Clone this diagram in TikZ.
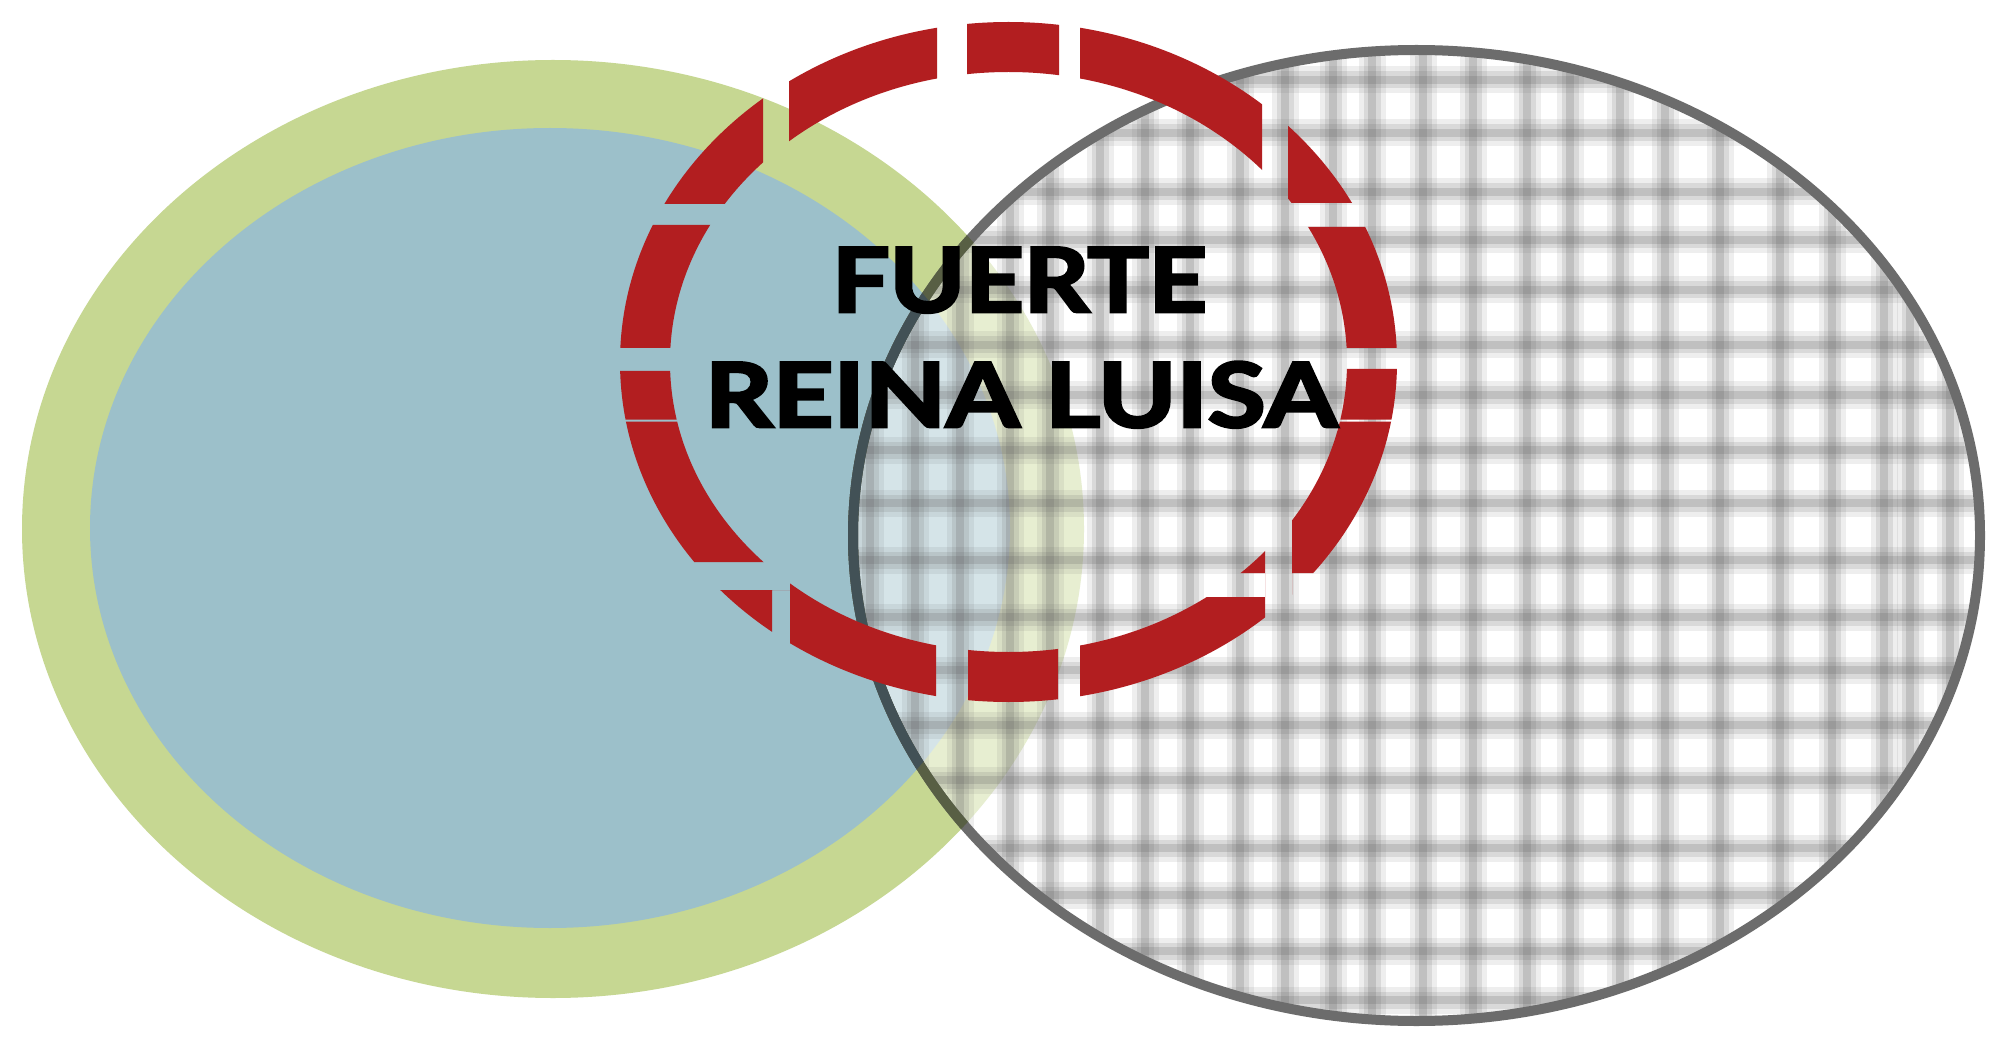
\documentclass[tikz,border=0pt]{standalone}
\usepackage{fontspec}
\newfontfamily\labelfont{Lato}[BoldFeatures={FakeBold=3.2}]
\definecolor{ringgreen}{RGB}{198,215,146}
\definecolor{poolblue}{RGB}{156,192,202}
\definecolor{fortred}{RGB}{178,30,32}
\definecolor{meshgrey}{RGB}{95,95,95}
\definecolor{edgegrey}{RGB}{108,108,108}
\definecolor{edgeongreen}{RGB}{88,95,68}
\definecolor{edgeonblue}{RGB}{66,81,86}
\tikzset{
  labeltext/.style={font=\labelfont\bfseries\fontsize{89.3}{100}\selectfont, inner sep=0pt, text=black},
  meshwide/.style={draw=meshgrey, opacity=0.10, line width=27},
  meshmid/.style={draw=meshgrey, opacity=0.14, line width=17},
  meshthin/.style={draw=meshgrey, opacity=0.2, line width=8},
  greyedge/.style={line width=10}
}
\begin{document}
\begin{tikzpicture}[x=1pt,y=-1pt]
\useasboundingbox (0,0) rectangle (1997,1048);
\fill[white] (0,0) rectangle (1997,1048);
% green ring and blue pool
\fill[ringgreen] (553,529) ellipse [x radius=531, y radius=469];
\fill[poolblue] (550,528) ellipse [x radius=460, y radius=400];
% grey mesh ellipse
\begin{scope}
  \clip (1416.5,535.5) ellipse [x radius=563.5, y radius=485.5];
  \fill[white, opacity=0.58] (840,40) rectangle (1990,1030);
  \foreach \gx in {870,915,960,1010,1050,1100,1145,1190,1240,1285,1333,1372,1423,1473,1527,1570,1620,1665,1720,1780,1832,1884,1910,1950}{
    \draw[meshwide] (\gx,40) -- (\gx,1030);
    \draw[meshmid] (\gx,40) -- (\gx,1030);
    \draw[meshthin] (\gx,40) -- (\gx,1030);
  }
  \foreach \gy in {80,133,192,240,290,345,395,450,503,560,617,670,725,780,848,895,951,1000}{
    \draw[meshwide] (840,\gy) -- (1990,\gy);
    \draw[meshmid] (840,\gy) -- (1990,\gy);
    \draw[meshthin] (840,\gy) -- (1990,\gy);
  }
\end{scope}
% outline of the mesh ellipse, darker where it crosses the green and blue shapes
\draw[greyedge, draw=edgegrey] (1416.5,535.5) ellipse [x radius=563.5, y radius=485.5];
\begin{scope}
  \clip (553,529) ellipse [x radius=531, y radius=469];
  \draw[greyedge, draw=edgeongreen] (1416.5,535.5) ellipse [x radius=563.5, y radius=485.5];
\end{scope}
\begin{scope}
  \clip (550,528) ellipse [x radius=460, y radius=400];
  \draw[greyedge, draw=edgeonblue] (1416.5,535.5) ellipse [x radius=563.5, y radius=485.5];
\end{scope}
% red dashed ring: full ring clipped by axis-aligned gap strips
\begin{scope}
  \clip (0,0) -- (1997,0) -- (1997,1048) -- (0,1048) -- cycle
    \foreach \xa/\ya/\xb/\yb in {763/40/789/200, 937/0/967/120, 1059/0/1080/120, 1262/40/1288/200,
      1250/203/1420/227, 1300/348/1420/369, 1300/419.5/1420/421.5, 1292/573/1420/597,
      1180/573/1265/597, 1265/450/1292/640, 1058/580/1080/720, 936/580/968/720,
      772/590/790/720, 680/562/790/590, 600/419.5/720/421.5, 600/348/720/371, 600/204/760/225}{
      (\xa,\ya) -- (\xa,\yb) -- (\xb,\yb) -- (\xb,\ya) -- cycle
    };
  \draw[fortred, line width=50] (1008.5,362) ellipse [x radius=363.5, y radius=315];
\end{scope}
% labels
\node[labeltext, anchor=base] (fuerte) at (1019.5,312) {\resizebox{375pt}{\height}{FUERTE}};
\node[labeltext, anchor=base] (reina) at (1021,427) {\resizebox{632pt}{\height}{REINA LUISA}};
\end{tikzpicture}
\end{document}
